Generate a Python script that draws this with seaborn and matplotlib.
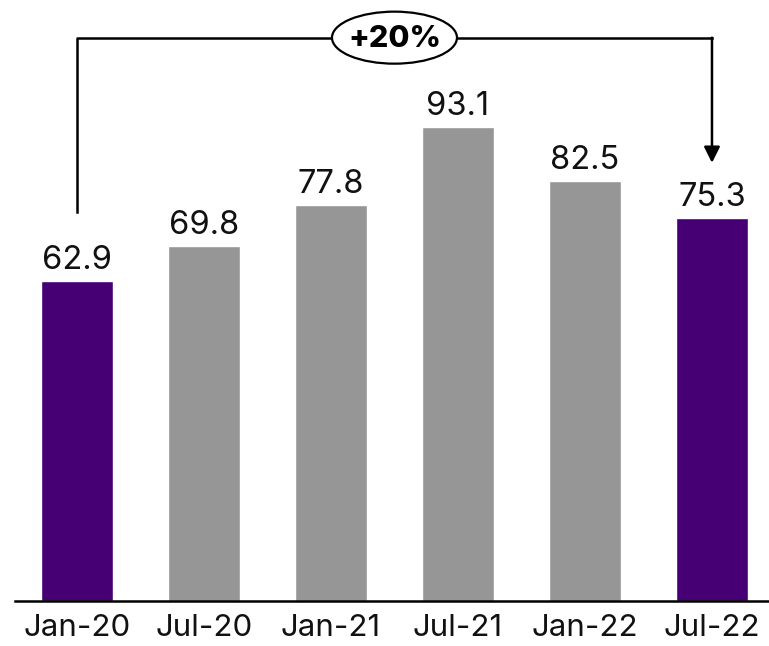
import matplotlib
matplotlib.use("Agg")
import matplotlib.pyplot as plt
from matplotlib.patches import Ellipse
import seaborn as sns
import pandas as pd

# data
periods = ["Jan-20", "Jul-20", "Jan-21", "Jul-21", "Jan-22", "Jul-22"]
values = [62.9, 69.8, 77.8, 93.1, 82.5, 75.3]
change_label = "+20%"

purple = "#460073"
grey = "#969696"
bar_colors = [purple, grey, grey, grey, grey, purple]

sns.set_theme(style="white")
plt.rcParams["font.family"] = ["Inter", "DejaVu Sans"]

df = pd.DataFrame({"period": periods, "value": values})

fig = plt.figure(figsize=(7.69, 6.46), dpi=100)
ax = fig.add_axes([15 / 769, 1 - 601 / 646, 1 - 15 / 769, 601 / 646])

sns.barplot(data=df, x="period", y="value", hue="period",
            palette=dict(zip(periods, bar_colors)), width=0.56,
            saturation=1, legend=False, ax=ax)

ax.set_xlim(-0.488, 5.449)
ax.set_ylim(0, 118.1)

for i, v in enumerate(values):
    ax.text(i, v + 2.4, f"{v:.1f}", ha="center", va="baseline", fontsize=23.5,
            color="#111111")

# bracket showing change first -> last
top = 110.7
first, last = 0, len(values) - 1
ax.plot([first, first, last], [values[first] + 13.6, top, top],
        color="black", lw=1.8, solid_capstyle="projecting", clip_on=False)
ax.annotate("", xy=(last, values[last] + 10.8), xytext=(last, top),
            arrowprops=dict(arrowstyle="-|>,head_length=0.8,head_width=0.4",
                            color="black", lw=1.8, shrinkA=0, shrinkB=0))
mid = (first + last) / 2
ax.add_patch(Ellipse((mid, top), width=125 / 127, height=52 / 5.087,
                     facecolor="white", edgecolor="black", lw=1.6,
                     zorder=5, clip_on=False))
ax.text(mid, top - 0.3, change_label, ha="center", va="center", fontsize=22,
        fontweight="heavy", zorder=6, color="black")

ax.set_xlabel("")
ax.set_ylabel("")
ax.set_yticks([])
ax.tick_params(axis="x", length=0, labelsize=22.5, pad=9, labelcolor="#111111")
for side in ["top", "right", "left"]:
    ax.spines[side].set_visible(False)
ax.spines["bottom"].set_color("black")
ax.spines["bottom"].set_linewidth(1.8)

fig.savefig("out.png", dpi=100)
